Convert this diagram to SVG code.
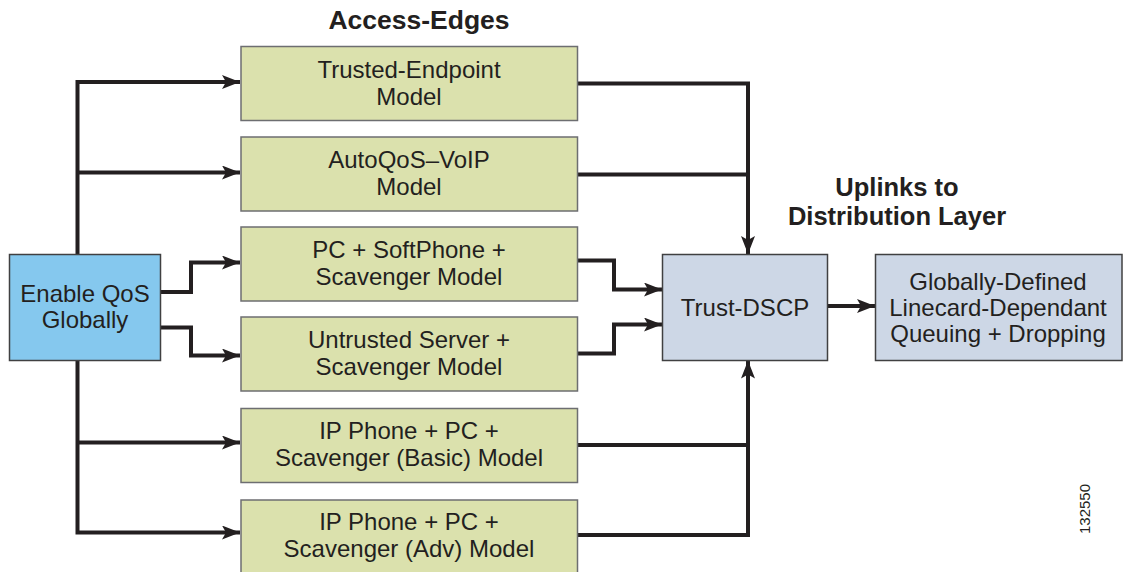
<svg xmlns="http://www.w3.org/2000/svg" width="1124" height="572" viewBox="0 0 1124 572">
<style>
.g{fill:#dbe1ad;stroke:#6d6e71;stroke-width:1.5}
.b{fill:#85c8ee;stroke:#404041;stroke-width:1.5}
.s{fill:#cdd7e6;stroke:#404041;stroke-width:1.5}
.t{font-family:"Liberation Sans",Arial,sans-serif;font-size:24px;fill:#231f20;text-anchor:middle}
.h{font-family:"Liberation Sans",Arial,sans-serif;font-size:26.5px;font-weight:bold;fill:#231f20;text-anchor:middle}
.u{font-family:"Liberation Sans",Arial,sans-serif;font-size:25.5px;font-weight:bold;fill:#231f20;text-anchor:middle}
.c{fill:none;stroke:#231f20;stroke-width:4}
</style>
<defs>
<marker id="a" markerUnits="userSpaceOnUse" markerWidth="20" markerHeight="16" refX="18" refY="7" orient="auto" viewBox="0 0 20 16">
<path d="M0,0 L18,7 L0,14 L4,7 Z" fill="#231f20"/>
</marker>
</defs>
<text class="h" x="419" y="29">Access-Edges</text>
<text class="u" x="897" y="195.5">Uplinks to</text>
<text class="u" x="897" y="225">Distribution Layer</text>
<g id="connectors">
<path class="c" d="M77.5,254 V82 H240" marker-end="url(#a)"/>
<path class="c" d="M77.5,172.5 H240" marker-end="url(#a)"/>
<path class="c" d="M77.5,360 V532.5 H240" marker-end="url(#a)"/>
<path class="c" d="M77.5,442.5 H240" marker-end="url(#a)"/>
<path class="c" d="M161,292 H191 V262.5 H240" marker-end="url(#a)"/>
<path class="c" d="M161,327.5 H191 V355.5 H240" marker-end="url(#a)"/>
<path class="c" d="M578,83.5 H748 V254" marker-end="url(#a)"/>
<path class="c" d="M578,174.5 H748"/>
<path class="c" d="M578,535 H748 V360.5" marker-end="url(#a)"/>
<path class="c" d="M578,445 H748"/>
<path class="c" d="M578,260.5 H614 V289.5 H662" marker-end="url(#a)"/>
<path class="c" d="M578,353.5 H614 V324.5 H662" marker-end="url(#a)"/>
<path class="c" d="M828,306 H875" marker-end="url(#a)"/>
</g>
<g id="enable"><rect class="b" x="9.5" y="254.5" width="151" height="106"/><text class="t" x="85" y="302">Enable QoS</text><text class="t" x="85" y="328">Globally</text></g>
<g id="m1"><rect class="g" x="241" y="46.5" width="336.5" height="74"/><text class="t" x="409" y="78">Trusted-Endpoint</text><text class="t" x="409" y="105">Model</text></g>
<g id="m2"><rect class="g" x="241" y="137" width="336.5" height="74"/><text class="t" x="409" y="168">AutoQoS–VoIP</text><text class="t" x="409" y="195">Model</text></g>
<g id="m3"><rect class="g" x="241" y="227" width="336.5" height="74"/><text class="t" x="409" y="258">PC + SoftPhone +</text><text class="t" x="409" y="285">Scavenger Model</text></g>
<g id="m4"><rect class="g" x="241" y="317" width="336.5" height="74"/><text class="t" x="409" y="348">Untrusted Server +</text><text class="t" x="409" y="375">Scavenger Model</text></g>
<g id="m5"><rect class="g" x="241" y="408.5" width="336.5" height="74"/><text class="t" x="409" y="439">IP Phone + PC +</text><text class="t" x="409" y="466">Scavenger (Basic) Model</text></g>
<g id="m6"><rect class="g" x="241" y="500" width="336.5" height="74"/><text class="t" x="409" y="530">IP Phone + PC +</text><text class="t" x="409" y="557">Scavenger (Adv) Model</text></g>
<g id="trust"><rect class="s" x="662.5" y="254.5" width="165" height="106"/><text class="t" x="745" y="316">Trust-DSCP</text></g>
<g id="queue"><rect class="s" x="875.5" y="254.5" width="246.5" height="106"/><text class="t" x="998" y="290">Globally-Defined</text><text class="t" x="998" y="316">Linecard-Dependant</text><text class="t" x="998" y="342">Queuing + Dropping</text></g>
<text x="1090" y="509" transform="rotate(-90 1090 509)" font-family="Liberation Sans,Arial,sans-serif" font-size="15" fill="#231f20" text-anchor="middle">132550</text>
</svg>
